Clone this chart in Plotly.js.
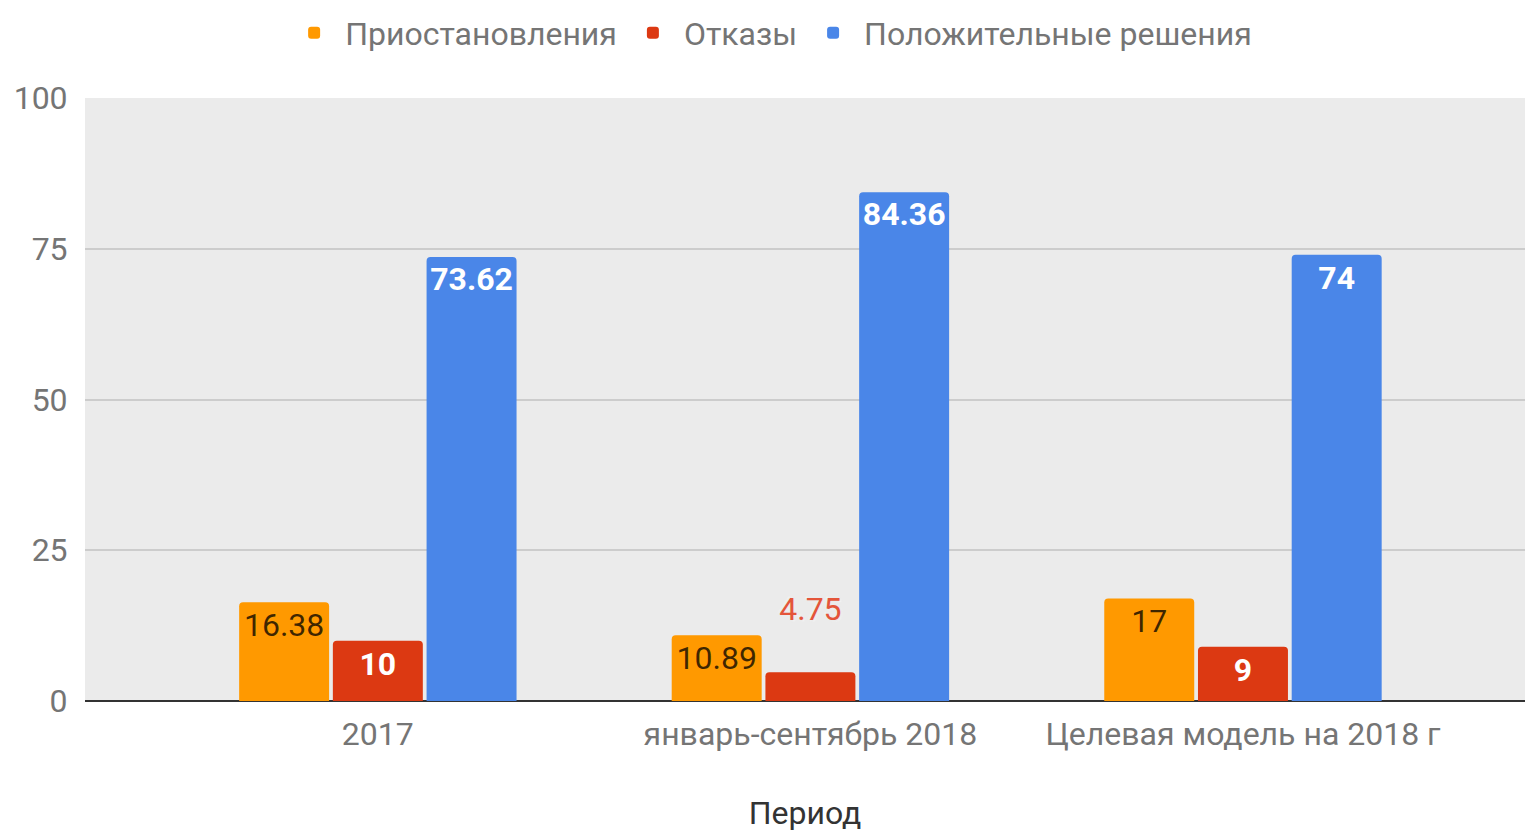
<!DOCTYPE html>
<html>
<head>
<meta charset="utf-8">
<script src="https://cdn.plot.ly/plotly-3.0.1.min.js"></script>
<style>html,body{margin:0;padding:0;background:#fff;}#chart{width:1525px;height:832px;}</style>
</head>
<body>
<div id="chart"></div>
<script>
const categories = ["2017", "январь-сентябрь 2018", "Целевая модель на 2018 г"];
const seriesNames = ["Приостановления", "Отказы", "Положительные решения"];
const suspensions = [16.38, 10.89, 17];
const refusals = [10, 4.75, 9];
const approvals = [73.62, 84.36, 74];
const yTicks = [0, 25, 50, 75, 100];
const xTitle = "Период";

const FONT = "Roboto, 'Noto Sans', Arial, sans-serif";
const halo = "#ebebeb 2px 0px 1px, #ebebeb -2px 0px 1px, #ebebeb 0px 2px 1px, #ebebeb 0px -2px 1px, white 1px 1px 2px, white -1px -1px 2px";

const common = {
  type: "bar",
  x: categories,
  texttemplate: "%{y}",
  textangle: 0,
  insidetextanchor: "end",
  constraintext: "none",
  cliponaxis: false,
  hoverinfo: "skip"
};

const traces = [
  Object.assign({}, common, {
    name: seriesNames[0], y: suspensions,
    textposition: "inside",
    marker: {color: "#FF9900", cornerradius: 4},
    insidetextfont: {family: FONT, size: 32, color: "rgba(0,0,0,0.75)"}
  }),
  Object.assign({}, common, {
    name: seriesNames[1], y: refusals,
    textposition: refusals.map(v => v < 7 ? "outside" : "inside"),
    texttemplate: refusals.map(v => v < 7 ? "%{y}<br> " : "%{y}"),
    marker: {color: "#DC3912", cornerradius: 4},
    insidetextfont: {family: FONT, size: 32, color: "#ffffff", weight: "bold"},
    outsidetextfont: {family: FONT, size: 32, color: "#E4553A", shadow: halo}
  }),
  Object.assign({}, common, {
    name: seriesNames[2], y: approvals,
    textposition: "inside",
    marker: {color: "#4A86E8", cornerradius: 4},
    insidetextfont: {family: FONT, size: 32, color: "#ffffff", weight: "bold"}
  })
];

const layout = {
  width: 1525, height: 832,
  margin: {l: 85, r: 0, t: 98, b: 131, pad: 0},
  paper_bgcolor: "#ffffff",
  plot_bgcolor: "#ebebeb",
  font: {family: FONT, color: "#757575", size: 32},
  barmode: "group",
  bargap: 0.35,
  bargroupgap: 0.04,
  showlegend: true,
  legend: {
    orientation: "h",
    xref: "container", yref: "container",
    x: 0.505, xanchor: "center",
    y: 1 - 33/832, yanchor: "middle",
    font: {family: FONT, size: 32, color: "#757575"},
    itemwidth: 52,
    traceorder: "normal",
    bgcolor: "rgba(0,0,0,0)"
  },
  xaxis: {
    type: "category",
    range: [-0.677, 2.652],
    showgrid: false,
    zeroline: false,
    showline: false,
    ticks: "",
    ticklabelstandoff: 11,
    tickfont: {family: FONT, size: 32, color: "#757575"},
    title: {text: xTitle, font: {family: FONT, size: 32, color: "#333333"}, standoff: 60},
    automargin: false
  },
  yaxis: {
    range: [0, 100],
    tickvals: yTicks,
    ticktext: yTicks.map(String),
    showgrid: true,
    gridcolor: "#cccccc",
    gridwidth: 2,
    zeroline: true,
    zerolinecolor: "#333333",
    zerolinewidth: 2,
    showline: false,
    ticks: "outside",
    ticklen: 10,
    tickcolor: "rgba(0,0,0,0)",
    tickfont: {family: FONT, size: 32, color: "#757575"},
    automargin: false
  }
};

Plotly.newPlot("chart", traces, layout, {displayModeBar: false, staticPlot: true});
</script>
</body>
</html>
